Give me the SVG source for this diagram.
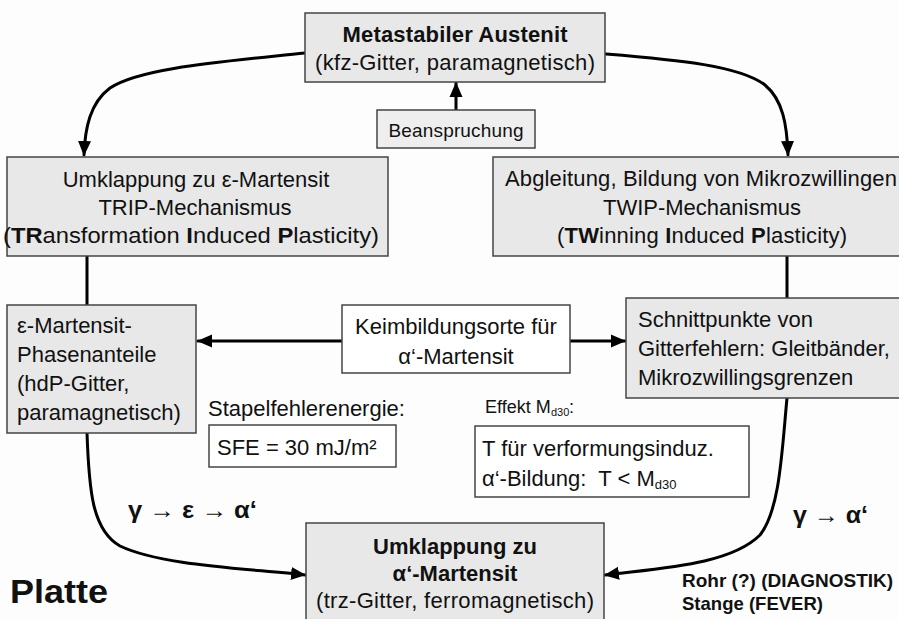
<svg xmlns="http://www.w3.org/2000/svg" width="899" height="619" viewBox="0 0 899 619">
  <defs>
    <marker id="arrow" markerUnits="userSpaceOnUse" markerWidth="16" markerHeight="16" refX="14" refY="8" orient="auto">
      <path d="M0,1.5 L15,8 L0,14.5 Z" fill="#000"/>
    </marker>
    <style>
      text { font-family: "Liberation Sans", Arial, sans-serif; fill: #111; }
      .box { fill: #e8e8e8; stroke: #444; stroke-width: 1.5; }
      .wbox { fill: #ffffff; stroke: #444; stroke-width: 1.5; }
      .t22 { font-size: 22px; }
      .c { text-anchor: middle; }
      .b { font-weight: bold; }
      .conn { fill: none; stroke: #000; stroke-width: 3; stroke-linecap: round; }
    </style>
  </defs>

  <rect width="899" height="619" fill="#fdfdfd"/>

  <!-- connectors -->
  <g id="connectors">
    <path class="conn" d="M305,53 C220,62 140,68 110,88 C90,103 85,128 84,155" marker-end="url(#arrow)"/>
    <path class="conn" d="M606,54 C680,60 740,66 765,85 C783,100 787,125 788,155" marker-end="url(#arrow)"/>
    <path class="conn" d="M456,110 L456,83" marker-end="url(#arrow)"/>
    <path class="conn" d="M87,256 L87,305"/>
    <path class="conn" d="M787,256 L787,298"/>
    <path class="conn" d="M342,341 L198,341" marker-end="url(#arrow)"/>
    <path class="conn" d="M570,341 L625,341" marker-end="url(#arrow)"/>
    <path class="conn" d="M87,433 C89,490 92,530 120,546 C160,565 240,568 305,575" marker-end="url(#arrow)"/>
    <path class="conn" d="M787,398 C782,450 780,510 760,535 C730,565 660,568 605,575" marker-end="url(#arrow)"/>
  </g>

  <!-- Metastabiler Austenit -->
  <g id="austenit">
    <rect class="box" x="305" y="13" width="300" height="69"/>
    <text class="t22 c b" x="455" y="42" textLength="225">Metastabiler Austenit</text>
    <text class="t22 c" x="455" y="70" textLength="280">(kfz-Gitter, paramagnetisch)</text>
  </g>

  <!-- Beanspruchung -->
  <g id="beanspruchung">
    <rect class="box" x="377" y="110" width="158" height="38" style="fill:#eeeeee"/>
    <text class="c" x="456" y="137" font-size="19" textLength="135">Beanspruchung</text>
  </g>

  <!-- TRIP -->
  <g id="trip">
    <rect class="box" x="7" y="157" width="381" height="99"/>
    <text class="t22 c" x="196" y="187">Umklappung zu ε-Martensit</text>
    <text class="t22 c" x="195" y="215">TRIP-Mechanismus</text>
    <text class="t22" x="3" y="243" textLength="376" lengthAdjust="spacingAndGlyphs">(<tspan class="b">TR</tspan>ansformation <tspan class="b">I</tspan>nduced <tspan class="b">P</tspan>lasticity)</text>
  </g>

  <!-- TWIP -->
  <g id="twip">
    <rect class="box" x="493" y="157" width="420" height="99"/>
    <text class="t22 c" x="701" y="186" textLength="392">Abgleitung, Bildung von Mikrozwillingen</text>
    <text class="t22 c" x="702" y="215">TWIP-Mechanismus</text>
    <text class="t22 c" x="702" y="243" textLength="290">(<tspan class="b">TW</tspan>inning <tspan class="b">I</tspan>nduced <tspan class="b">P</tspan>lasticity)</text>
  </g>

  <!-- epsilon-Martensit -->
  <g id="eps-martensit">
    <rect class="box" x="7" y="305" width="189" height="128"/>
    <text class="t22" x="17" y="333">ε-Martensit-</text>
    <text class="t22" x="17" y="362">Phasenanteile</text>
    <text class="t22" x="17" y="391">(hdP-Gitter,</text>
    <text class="t22" x="17" y="420">paramagnetisch)</text>
  </g>

  <!-- Keimbildungsorte -->
  <g id="keimbildung">
    <rect class="wbox" x="342" y="305" width="228" height="68"/>
    <text class="t22 c" x="456" y="334">Keimbildungsorte für</text>
    <text class="t22 c" x="456" y="364">α‘-Martensit</text>
  </g>

  <!-- Schnittpunkte -->
  <g id="schnittpunkte">
    <rect class="box" x="626" y="298" width="290" height="100"/>
    <text class="t22" x="638" y="327">Schnittpunkte von</text>
    <text class="t22" x="638" y="356">Gitterfehlern: Gleitbänder,</text>
    <text class="t22" x="638" y="385">Mikrozwillingsgrenzen</text>
  </g>

  <!-- SFE -->
  <g id="sfe">
    <text class="t22" x="208" y="416">Stapelfehlerenergie:</text>
    <rect class="wbox" x="209" y="425" width="187" height="42"/>
    <text class="t22" x="217" y="455">SFE = 30 mJ/m²</text>
  </g>

  <!-- Md30 -->
  <g id="md30">
    <text x="485" y="413" font-size="18">Effekt M</text>
    <text x="551" y="416" font-size="11">d30</text>
    <text x="569" y="413" font-size="18">:</text>
    <rect class="wbox" x="475" y="426" width="274" height="71"/>
    <text class="t22" x="482" y="456">T für verformungsinduz.</text>
    <text class="t22" x="482" y="486">α‘-Bildung:&#160; T &lt; M<tspan font-size="13" dy="3">d30</tspan></text>
  </g>

  <!-- alpha-Martensit -->
  <g id="alpha-martensit">
    <rect class="box" x="306" y="523" width="298" height="110"/>
    <text class="t22 c b" x="455" y="554">Umklappung zu</text>
    <text class="t22 c b" x="455" y="581">α‘-Martensit</text>
    <text class="t22 c" x="455" y="608" textLength="278">(trz-Gitter, ferromagnetisch)</text>
  </g>

  <!-- labels -->
  <g id="labels">
    <text class="b" x="128" y="518" font-size="24" textLength="129" lengthAdjust="spacingAndGlyphs">γ → ε → α‘</text>
    <text class="b" x="793" y="523" font-size="24" textLength="75" lengthAdjust="spacingAndGlyphs">γ → α‘</text>
    <text class="b" x="10" y="603" font-size="34" textLength="98" lengthAdjust="spacingAndGlyphs">Platte</text>
    <text class="b" x="682" y="587" font-size="19">Rohr (?) (DIAGNOSTIK)</text>
    <text class="b" x="682" y="610" font-size="19" textLength="141" lengthAdjust="spacingAndGlyphs">Stange (FEVER)</text>
  </g>
</svg>
